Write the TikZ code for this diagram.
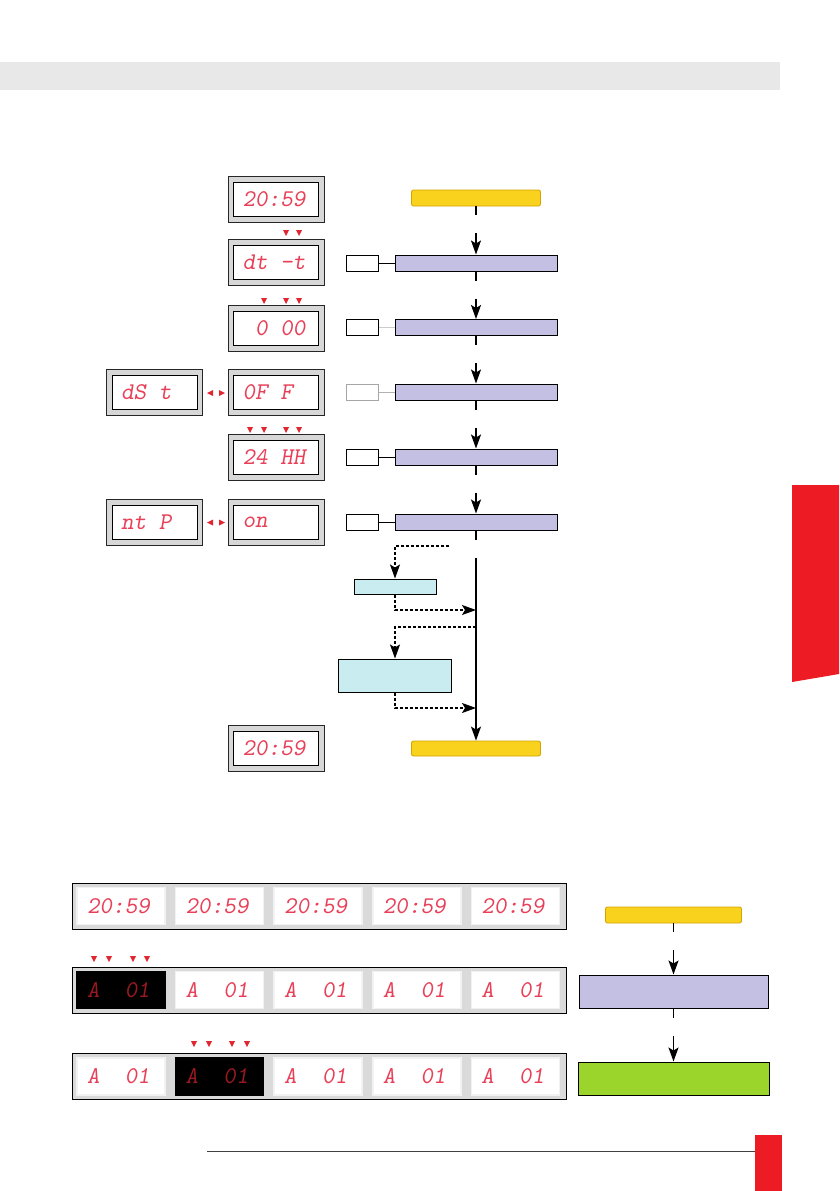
\documentclass[tikz,border=0pt]{standalone}
\usepackage{graphicx}
\usetikzlibrary{positioning,arrows.meta}
\newcommand\segfont{\fontsize{24}{24}\selectfont\ttfamily\slshape}
\begin{document}
\begin{tikzpicture}[x=1pt,y=-1pt,
    flow/.style={-{Stealth[length=14pt,width=10pt,inset=3pt]}, line width=1.5pt,
      dash pattern=on 9pt off 18pt on 400pt off 0pt},
    dotflow/.style={-{Stealth[length=14pt,width=10pt,inset=3pt]}, line width=1.3pt,
      dash pattern=on 3pt off 2pt},
  ]
  % Colour definitions
  \definecolor{bandgray}{HTML}{E8E8E8}
  \definecolor{dispgray}{HTML}{D7D7D7}
  \definecolor{stripgray}{HTML}{DADADA}
  \definecolor{segred}{HTML}{E84058}
  \definecolor{segdark}{HTML}{9A1820}
  \definecolor{markred}{HTML}{E2262F}
  \definecolor{tabred}{HTML}{ED1C24}
  \definecolor{yelfill}{HTML}{F9D21E}
  \definecolor{yelbdr}{HTML}{D4A300}
  \definecolor{purfill}{HTML}{C4C0E3}
  \definecolor{bluefill}{HTML}{C9ECF1}
  \definecolor{grnfill}{HTML}{9BD42A}

  \tikzstyle{startbox} = [draw=yelbdr, fill=yelfill, rounded corners=2pt,
    minimum width=129pt, minimum height=16pt, inner sep=0pt, line width=0.8pt]
  \tikzstyle{stepbox} = [draw, fill=purfill, minimum width=162pt,
    minimum height=16pt, inner sep=0pt, line width=1pt]
  \tikzstyle{keybox} = [draw, fill=white, minimum width=32pt,
    minimum height=16pt, inner sep=0pt, line width=1pt]
  \tikzstyle{subbox} = [draw, fill=bluefill, inner sep=0pt, line width=1pt]
  \tikzstyle{dispout} = [draw=black!85, fill=dispgray, minimum width=96pt,
    minimum height=46pt, inner sep=0pt, line width=1pt]
  \tikzstyle{dispin} = [draw, fill=white, minimum height=34pt, text width=67pt,
    inner xsep=9pt, inner ysep=0pt, align=left, font=\segfont, text=segred,
    line width=0.8pt]
  \tikzstyle{strip} = [draw, fill=stripgray, minimum width=494pt,
    minimum height=46pt, inner sep=0pt, line width=1pt]
  \tikzstyle{panel} = [fill=white, draw=black!5, line width=1.5pt,
    minimum height=37pt, text width=68pt, inner xsep=10pt, inner ysep=0pt,
    align=left, font=\segfont, text=segred]
  \tikzstyle{panelon} = [panel, fill=black, draw=black, text=segdark]

  \useasboundingbox (0,0) rectangle (839,1191);

  % Page furniture
  \fill[bandgray] (0,62) rectangle (780,90);
  \fill[tabred] (792,485) -- (839,485) -- (839,674) -- (792,682) -- cycle;
  \draw[black!75, line width=0.6pt] (207,1151) -- (755,1151);
  \fill[tabred] (755,1135) rectangle (782,1191);

  % Displays, left column
  \node[dispout] (d1o) at (276,199) {};
  \node[dispin] (d1) at (d1o) {20:59};
  \node[dispout] (d2o) at (276,262.5) {};
  \node[dispin] (d2) at (d2o) {dt\phantom{0}-t};
  \node[dispout] (d3o) at (276,328.5) {};
  \node[dispin] (d3) at (d3o) {\phantom{0}0\phantom{0}00};
  \node[dispout] (d4o) at (276,392.5) {};
  \node[dispin] (d4) at (d4o) {0F\phantom{0}F};
  \node[dispout] (d4lo) at (154.5,392.5) {};
  \node[dispin] (d4l) at (d4lo) {dS\phantom{0}t};
  \node[dispout] (d5o) at (276,457.5) {};
  \node[dispin] (d5) at (d5o) {24\phantom{0}HH};
  \node[dispout] (d6o) at (276,522.5) {};
  \node[dispin] (d6) at (d6o) {on};
  \node[dispout] (d6lo) at (154.5,522.5) {};
  \node[dispin] (d6l) at (d6lo) {nt\phantom{0}P};
  \node[dispout] (d7o) at (276,748.5) {};
  \node[dispin] (d7) at (d7o) {20:59};

  % Digit markers
  \foreach \x in {286,299}
    \fill[markred] (\x-3,230) -- (\x+3,230) -- (\x,236) -- cycle;
  \foreach \x in {264,286,299}
    \fill[markred] (\x-3,298) -- (\x+3,298) -- (\x,304) -- cycle;
  \foreach \x in {250,264,286,299}
    \fill[markred] (\x-3,427) -- (\x+3,427) -- (\x,433) -- cycle;
  \foreach \y in {393,522.5} {
    \fill[markred] (207,\y) -- (213,\y-3) -- (213,\y+3) -- cycle;
    \fill[markred] (225,\y) -- (219,\y-3) -- (219,\y+3) -- cycle;
  }

  % Flow, top
  \node[startbox] (st) at (476,198) {};
  \node[stepbox] (s1) at (476,263) {};
  \node[stepbox] (s2) at (476,327.5) {};
  \node[stepbox] (s3) at (476,392) {};
  \node[stepbox] (s4) at (476,457) {};
  \node[stepbox] (s5) at (476,522) {};
  \node[keybox] (k1) at (362,263) {};
  \node[keybox] (k2) at (362,327.5) {};
  \node[keybox, draw=black!35] (k3) at (362,392) {};
  \node[keybox] (k4) at (362,457) {};
  \node[keybox] (k5) at (362,522) {};
  \node[subbox, minimum width=82pt, minimum height=15pt] (b1) at (395,586.5) {};
  \node[subbox, minimum width=113pt, minimum height=33pt] (b2) at (395,675.5) {};
  \node[startbox, minimum height=15pt] (en) at (476,748.5) {};

  \draw[line width=1pt] (k1) -- (s1);
  \draw[line width=1pt, black!20] (k2) -- (s2);
  \draw[line width=1pt, black!30] (k3) -- (s3);
  \draw[line width=1pt] (k4) -- (s4);
  \draw[line width=1pt] (k5) -- (s5);

  \draw[flow] (st) -- (s1);
  \draw[flow] (s1) -- (s2);
  \draw[flow] (s2) -- (s3);
  \draw[flow] (s3) -- (s4);
  \draw[flow] (s4) -- (s5);
  \draw[flow] (s5) -- (en);

  % Optional branches
  \coordinate (c0) at (449,546);
  \coordinate (j1) at (476,610);
  \coordinate (j2) at (476,627);
  \coordinate (j3) at (476,708);
  \draw[dotflow] (c0) -| (b1.north);
  \draw[dotflow] (b1.south) |- (j1);
  \draw[dotflow] (j2) -| (b2.north);
  \draw[dotflow] (b2.south) |- (j3);

  % Strips, bottom
  \node[strip] (r1) at (319,906) {};
  \node[strip] (r2) at (319,990) {};
  \node[strip] (r3) at (319,1076.5) {};
  \foreach \i [evaluate=\i as \px using 121+98.6*(\i-1)] in {1,...,5}
    \node[panel] (r1p\i) at (\px,906) {20:59};
  \node[panelon] (r2p1) at (121,990) {A\phantom{00}01};
  \foreach \i [evaluate=\i as \px using 121+98.6*(\i-1)] in {2,...,5}
    \node[panel] (r2p\i) at (\px,990) {A\phantom{00}01};
  \node[panel] (r3p1) at (121,1076.5) {A\phantom{00}01};
  \node[panelon] (r3p2) at (219.6,1076.5) {A\phantom{00}01};
  \foreach \i [evaluate=\i as \px using 121+98.6*(\i-1)] in {3,...,5}
    \node[panel] (r3p\i) at (\px,1076.5) {A\phantom{00}01};

  \foreach \x in {94,109,133,147}
    \fill[markred] (\x-3,956) -- (\x+3,956) -- (\x,962) -- cycle;
  \foreach \x in {194,209,232,247}
    \fill[markred] (\x-3,1041) -- (\x+3,1041) -- (\x,1047) -- cycle;

  % Flow, bottom
  \node[startbox, minimum width=136pt] (st2) at (673.5,915) {};
  \node[stepbox, minimum width=189pt, minimum height=33pt] (s6) at (673.5,991.5) {};
  \node[stepbox, fill=grnfill, minimum width=191pt, minimum height=33pt] (ok) at (673.5,1078.5) {};
  \draw[flow] (st2) -- (s6);
  \draw[flow] (s6) -- (ok);
\end{tikzpicture}
\end{document}
